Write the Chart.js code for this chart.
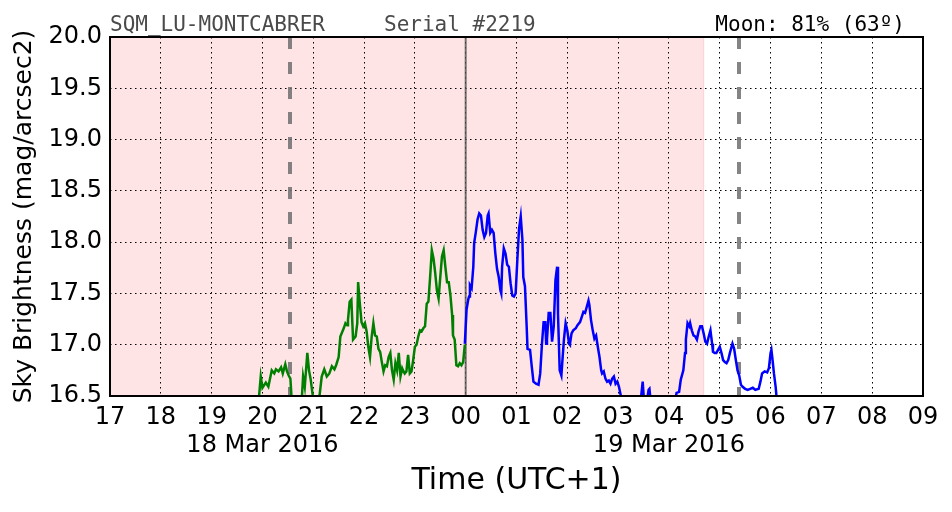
<!DOCTYPE html>
<html><head><meta charset="utf-8">
<script src="https://cdn.jsdelivr.net/npm/chart.js@4"></script>
<style>html,body{margin:0;padding:0;background:#fff}</style>
</head><body>
<canvas id="c" width="952" height="512"></canvas>
<script>
// ---- data (x in minutes after 17:00 local, 18 Mar 2016) ----
const tickLabels = ['17','18','19','20','21','22','23','00','01','02','03','04','05','06','07','08','09'];
const dateTickMinutes = [180, 660];
const dateTickTexts = ['18 Mar 2016', '19 Mar 2016'];
const yTicks = [16.5, 17.0, 17.5, 18.0, 18.5, 19.0, 19.5, 20.0];

const greenMinutes = [175,178,180,184,187,191,194,196,199,202,204,207,209,211,213,215,226,228,230,233,235,237,239,241,246,250,253,256,259,262,265,267,270,272,276,278,280,281,283,285,287,290,292,293,295,297,299,301,303,305,307,309,311,313,315,317,319,321,323,325,327,329,331,333,335,337,339,341,343,345,346,348,350,352,354,356,358,360,362,364,366,368,370,372,374,376,378,380,382,384,386,388,390,392,394,396,398,400,402,404,405,407,409,411,413,415,417,419];
const greenMag = [16.40,16.69,16.58,16.63,16.59,16.75,16.72,16.76,16.74,16.78,16.72,16.81,16.74,16.70,16.67,16.40,16.40,16.69,16.59,16.92,16.75,16.66,16.53,16.40,16.40,16.69,16.76,16.69,16.72,16.79,16.76,16.80,16.88,17.08,17.16,17.21,17.19,17.24,17.42,17.44,17.05,17.08,17.21,17.61,17.40,17.22,17.18,17.21,17.13,16.98,16.88,17.08,17.21,17.09,17.08,16.96,16.93,16.83,16.74,16.80,16.79,16.88,16.92,16.75,16.66,16.82,16.75,16.92,16.69,16.77,16.75,16.72,16.74,16.90,16.72,16.74,16.85,16.98,17.00,17.08,17.14,17.13,17.16,17.18,17.40,17.42,17.66,17.92,17.84,17.70,17.53,17.45,17.66,17.86,17.92,17.76,17.61,17.61,17.48,17.29,17.09,17.05,16.80,16.79,16.82,16.80,16.83,17.00];

const blueMinutes = [419,421,423,424,425,427,429,430,432,434,436,438,440,442,444,446,447,449,451,453,455,457,459,461,462,463,465,467,469,471,473,475,477,479,481,483,485,487,488,490,492,493,496,498,500,503,506,508,510,512,514,515,516,518,520,522,524,526,528,529,531,533,534,536,538,540,542,543,545,547,550,552,555,557,559,561,563,565,566,568,570,572,574,576,578,580,581,583,585,587,589,591,593,595,597,599,601,603,606,626,629,631,633,636,637,639,666,669,672,674,677,679,680,682,684,685,687,689,691,693,695,697,699,701,703,705,707,709,711,712,714,716,718,720,722,724,726,728,730,732,734,735,737,739,741,743,745,747,750,753,756,759,762,766,768,770,773,776,778,780,781,782,784,786,788];
const blueMag = [17.01,17.34,17.44,17.47,17.58,17.55,17.76,17.99,18.10,18.22,18.28,18.26,18.12,18.05,18.09,18.26,18.28,18.09,18.12,18.09,17.89,17.74,17.66,17.53,17.50,17.76,17.94,17.89,17.78,17.76,17.60,17.48,17.47,17.50,17.83,18.13,18.25,18.02,17.66,17.57,17.18,16.96,16.95,16.79,16.64,16.62,16.61,16.72,17.00,17.22,17.22,17.01,17.05,17.31,17.31,17.03,17.18,17.63,17.76,17.30,16.75,16.70,16.82,17.05,17.21,17.14,17.01,17.00,17.11,17.14,17.16,17.19,17.22,17.27,17.32,17.31,17.37,17.43,17.39,17.24,17.14,17.06,17.09,16.98,16.88,16.75,16.72,16.74,16.67,16.64,16.65,16.62,16.67,16.69,16.62,16.64,16.59,16.51,16.40,16.40,16.64,16.40,16.40,16.56,16.57,16.40,16.40,16.53,16.54,16.66,16.75,16.92,17.05,17.21,17.18,17.21,17.14,17.09,17.08,17.05,17.13,17.18,17.18,17.11,17.03,17.01,17.08,17.14,17.01,16.93,16.92,16.92,16.95,16.98,16.92,16.85,16.83,16.82,16.85,16.92,16.98,17.01,16.96,16.85,16.75,16.70,16.61,16.59,16.57,16.56,16.57,16.58,16.56,16.57,16.64,16.72,16.74,16.73,16.77,16.92,16.95,16.88,16.72,16.59,16.40];

const twilightEndMinute = 701;      // end of shaded (night) span
const dashedLineMinutes = [213, 743]; // moon/sun event markers
const midnightMinute = 420;

const headerLeft = 'SQM_LU-MONTCABRER';
const headerMid = 'Serial #2219';
const headerRight = 'Moon: 81% (63º)';

// ---- drawing ----
const FONT = "'DejaVu Sans', sans-serif";
const MONO = "'DejaVu Sans Mono', monospace";

const toPts = (xs, ys) => xs.map((x, i) => ({x: x, y: ys[i]}));

const decor = {
  id: 'decor',
  beforeDraw(chart) {
    const {ctx, chartArea: a, scales: {x}} = chart;
    ctx.save();
    const x1 = x.getPixelForValue(twilightEndMinute);
    ctx.fillStyle = '#ffe4e6';
    ctx.fillRect(a.left, a.top, x1 - a.left, a.bottom - a.top);
    ctx.strokeStyle = '#ffcfd3';
    ctx.lineWidth = 1;
    ctx.beginPath(); ctx.moveTo(x1, a.top); ctx.lineTo(x1, a.bottom); ctx.stroke();
    ctx.restore();
  },
  beforeDatasetsDraw(chart) {
    const {ctx, chartArea: a, scales: {x}} = chart;
    ctx.save();
    ctx.strokeStyle = 'rgba(110,110,110,0.85)';
    ctx.lineWidth = 4;
    ctx.setLineDash([12, 13]);
    dashedLineMinutes.forEach(m => {
      const px = Math.round(x.getPixelForValue(m));
      ctx.beginPath(); ctx.moveTo(px, a.top); ctx.lineTo(px, a.bottom); ctx.stroke();
    });
    ctx.setLineDash([]);
    ctx.strokeStyle = 'rgba(80,80,80,0.8)';
    ctx.lineWidth = 2;
    const mp = x.getPixelForValue(midnightMinute);
    ctx.beginPath(); ctx.moveTo(mp, a.top); ctx.lineTo(mp, a.bottom); ctx.stroke();
    ctx.restore();
  },
  afterDraw(chart) {
    const {ctx, chartArea: a} = chart;
    ctx.save();
    ctx.strokeStyle = '#000';
    ctx.lineWidth = 2;
    ctx.strokeRect(a.left, a.top, a.right - a.left, a.bottom - a.top);
    ctx.font = '21px ' + MONO;
    ctx.textBaseline = 'alphabetic';
    ctx.fillStyle = '#4a4a4a';
    ctx.textAlign = 'left';
    ctx.fillText(headerLeft, 110, 31);
    ctx.fillText(headerMid, 384, 31);
    ctx.fillStyle = '#000';
    ctx.textAlign = 'right';
    ctx.fillText(headerRight, 905, 31);
    ctx.restore();
  }
};

new Chart(document.getElementById('c'), {
  type: 'line',
  data: {
    datasets: [
      {data: toPts(greenMinutes, greenMag), borderColor: '#008000', borderWidth: 2.5, pointRadius: 0, tension: 0, clip: 0},
      {data: toPts(blueMinutes, blueMag), borderColor: '#0000ff', borderWidth: 2.5, pointRadius: 0, tension: 0, clip: 0}
    ]
  },
  options: {
    responsive: false, animation: false, devicePixelRatio: 1,
    layout: {padding: {top: 37, right: 29, left: 0, bottom: 0}},
    plugins: {legend: {display: false}, tooltip: {enabled: false}},
    scales: {
      x: {
        type: 'linear', min: 0, max: (tickLabels.length - 1) * 60,
        afterFit(s) { s.height = 116; },
        afterBuildTicks(s) { s.ticks = tickLabels.map((t, i) => ({value: i * 60})); },
        ticks: {
          autoSkip: false, maxRotation: 0, padding: 8, color: '#000',
          font: {family: FONT, size: 24, lineHeight: 1.15},
          callback(v) {
            const lbl = tickLabels[Math.round(v / 60)];
            const di = dateTickMinutes.indexOf(v);
            return di >= 0 ? [lbl, dateTickTexts[di]] : lbl;
          }
        },
        grid: {color: '#000', lineWidth: 1, drawTicks: false},
        border: {display: false, dash: [1.5, 3.5]},
        title: {display: true, text: 'Time (UTC+1)', color: '#000', font: {family: FONT, size: 30}, padding: {top: 0, bottom: 13}}
      },
      y: {
        min: yTicks[0], max: yTicks[yTicks.length - 1],
        afterFit(s) { s.width = 110; },
        afterBuildTicks(s) { s.ticks = yTicks.map(v => ({value: v})); },
        ticks: {padding: 8, color: '#000', font: {family: FONT, size: 24}, callback: v => v.toFixed(1)},
        grid: {color: '#000', lineWidth: 1, drawTicks: false},
        border: {display: false, dash: [1.5, 3.5]},
        title: {display: true, text: 'Sky Brightness (mag/arcsec2)', color: '#000', font: {family: FONT, size: 25}, padding: {top: 9, bottom: 0}}
      }
    }
  },
  plugins: [decor]
});
</script>
</body></html>
